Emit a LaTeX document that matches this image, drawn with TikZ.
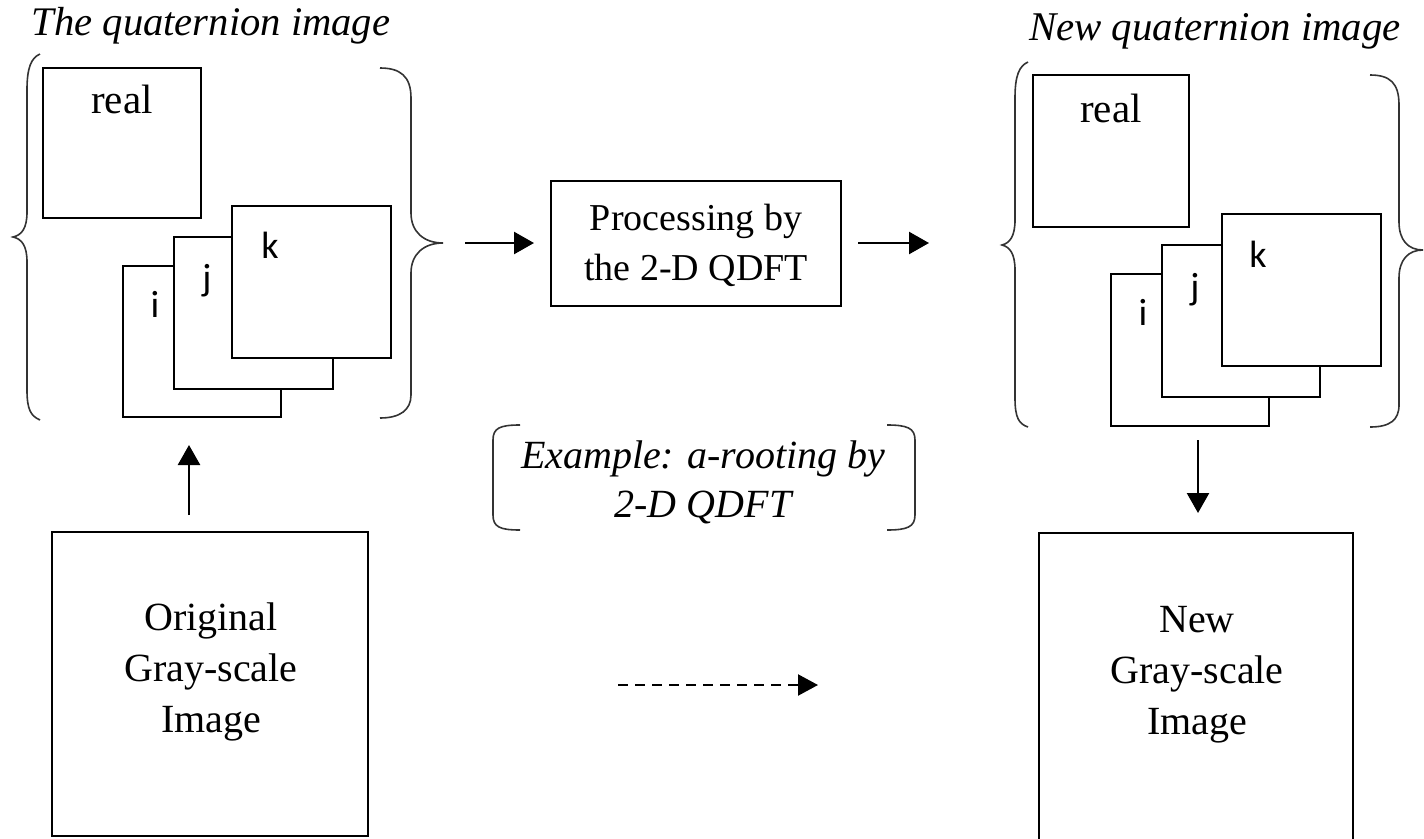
\documentclass[tikz,border=0pt]{standalone}
\usepackage{fontspec}
\setmainfont{Liberation Serif}
\newfontfamily\ijkfont{Carlito}
\usetikzlibrary{arrows.meta}
\begin{document}
\begin{tikzpicture}[x=1pt,y=-1pt,
  imgbox/.style={draw=black, line width=2pt, fill=white, rectangle, inner sep=0pt},
  txt/.style={font=\fontsize{40}{51}\selectfont, inner sep=0pt, anchor=base, align=center},
  ijk/.style={font=\ijkfont\fontsize{38}{40}\selectfont, inner sep=0pt, anchor=base},
  brace/.style={draw=black!80, line width=1.6pt},
  arr/.style={line width=2.5pt, -{Triangle[length=20pt,width=22pt]}},
  darr/.style={line width=2.2pt, dash pattern=on 10pt off 7pt, -{Triangle[length=20pt,width=21pt]}}
]
\useasboundingbox (0,0) rectangle (1424,838);

% ---------- left quaternion image ----------
\node[txt, font=\itshape\fontsize{40.6}{51}\selectfont] (t1) at (211,35) {The quaternion image};
\draw[brace] (40,54) .. controls (31,58) and (27,68) .. (27,90) -- (27,212) .. controls (27,228) and (22,235) .. (13,237) .. controls (22,239) and (27,246) .. (27,262) -- (27,390) .. controls (27,410) and (31,416) .. (40,420);
\draw[brace] (380,68) .. controls (400,68) and (411,76) .. (411,98) -- (411,213) .. controls (411,232) and (424,243) .. (443,243) .. controls (424,243) and (411,254) .. (411,273) -- (411,395) .. controls (411,410) and (400,418) .. (380,418);
\node[imgbox, minimum width=158pt, minimum height=150pt] (lreal) at (122,143) {};
\node[txt, font=\fontsize{41}{51}\selectfont] (lrealt) at (122,113) {real};
\node[imgbox, minimum width=158pt, minimum height=151pt] (li) at (202,341.5) {};
\node[imgbox, minimum width=159pt, minimum height=152pt] (lj) at (253.5,313) {};
\node[imgbox, minimum width=159pt, minimum height=152pt] (lk) at (311.5,282) {};
\node[ijk] (lit) at (155,317) {i};
\node[ijk] (ljt) at (207,290) {j};
\node[ijk] (lkt) at (270,258) {k};

% ---------- processing ----------
\node[imgbox, minimum width=290pt, minimum height=125pt] (proc) at (696,243) {};
\node[txt, font=\fontsize{38}{50}\selectfont] (proct) at (696,280) {Processing by\\the 2-D QDFT};

% ---------- right quaternion image ----------
\node[txt, font=\itshape\fontsize{40.8}{51}\selectfont] (t2) at (1215,40) {New quaternion image};
\draw[brace] (1028,62) .. controls (1019,66) and (1015,76) .. (1015,98) -- (1015,220) .. controls (1015,236) and (1010,243) .. (1002,245) .. controls (1010,247) and (1015,254) .. (1015,270) -- (1015,398) .. controls (1015,418) and (1019,424) .. (1028,427);
\draw[brace] (1370,75) .. controls (1390,75) and (1399,83) .. (1399,105) -- (1399,222) .. controls (1399,240) and (1408,250) .. (1423,250) .. controls (1408,250) and (1399,260) .. (1399,278) -- (1399,405) .. controls (1399,420) and (1390,427) .. (1370,427);
\node[imgbox, minimum width=156pt, minimum height=152pt] (rreal) at (1111,151) {};
\node[txt, font=\fontsize{41}{51}\selectfont] (rrealt) at (1111,122) {real};
\node[imgbox, minimum width=158pt, minimum height=152pt] (ri) at (1190,350) {};
\node[imgbox, minimum width=158pt, minimum height=152pt] (rj) at (1241,321) {};
\node[imgbox, minimum width=159pt, minimum height=152pt] (rk) at (1301.5,290) {};
\node[ijk] (rit) at (1143,325) {i};
\node[ijk] (rjt) at (1195,299) {j};
\node[ijk] (rkt) at (1258,267) {k};

% ---------- example bracket ----------
\node[txt, font=\itshape\fontsize{40}{49}\selectfont] (ex) at (703,517) {Example: a-rooting by\\2-D QDFT};
\draw[brace] (520,425) .. controls (500,425) and (493,428) .. (493,440) -- (493,515) .. controls (493,527) and (500,530) .. (520,530);
\draw[brace] (887,425) .. controls (907,425) and (915,428) .. (915,440) -- (915,515) .. controls (915,527) and (907,530) .. (887,530);

% ---------- gray-scale images ----------
\node[imgbox, minimum width=316pt, minimum height=304pt] (orig) at (210,684) {};
\node[txt] (origt) at (211,732) {Original\\Gray-scale\\Image};
\node[imgbox, minimum width=314pt, minimum height=366pt] (new) at (1196,716) {};
\node[txt] (newt) at (1197,734) {New\\Gray-scale\\Image};

% ---------- connectors ----------
\coordinate (upA) at (189,515);
\coordinate (upB) at (189,445);
\draw[arr] (upA) -- (upB);
\coordinate (a1s) at (465,243);
\draw[arr, shorten >=16pt] (a1s) -- (proc.west);
\coordinate (a2e) at (929,243);
\draw[arr, shorten <=16pt] (proc.east) -- (a2e);
\coordinate (dnA) at (1198,440);
\draw[arr, shorten >=19pt] (dnA) -- (dnA |- new.north);
\coordinate (dA) at (618,685);
\coordinate (dB) at (818,685);
\draw[darr] (dA) -- (dB);
\end{tikzpicture}
\end{document}
